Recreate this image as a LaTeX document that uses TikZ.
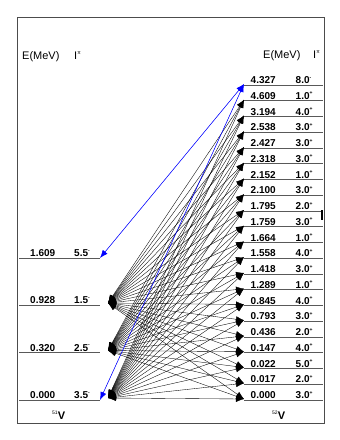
\documentclass[tikz,border=0pt]{standalone}
\usepackage{fontspec}
\setmainfont{Liberation Sans}
\usetikzlibrary{arrows.meta}
\newcommand{\tsup}[1]{\raisebox{0.45em}{\fontsize{5}{6}\selectfont #1}}
\tikzset{
  frame/.style={draw=black!70,line width=0.9pt},
  lvl/.style={draw=black!65,line width=0.9pt},
  elabel/.style={inner sep=0pt,anchor=base west,font=\bfseries\fontsize{10}{12}\selectfont},
  head/.style={inner sep=0pt,anchor=base west,font=\fontsize{11}{13}\selectfont},
  trans/.style={{Latex[length=8pt,width=6pt]}-{Latex[length=8pt,width=6pt]},line width=0.35pt},
  blueline/.style={trans,draw=blue,fill=blue,line width=0.5pt}
}
\begin{document}
\begin{tikzpicture}[x=1pt,y=-1pt]
  \useasboundingbox (0,0) rectangle (340,440);
  \draw[frame] (17,17) rectangle (324,423);
  % headers
  \node[head] (hEl) at (22,59) {E(MeV)};
  \node[head] (hIl) at (74,59) {I\tsup{π}};
  \node[head] (hEr) at (263,58) {E(MeV)};
  \node[head] (hIr) at (313,58) {I\tsup{π}};
  % 51V levels
  \foreach \e/\j/\p/\y [count=\i] in {1.609/5.5/-/258,0.928/1.5/-/305,0.320/2.5/-/352.5,0.000/3.5/-/400}{
    \coordinate (Ls\i) at (19,\y);
    \coordinate (L\i) at (100,\y);
    \coordinate (La\i) at (108,\y-2);
    \draw[lvl] (Ls\i) -- (L\i);
    \node[elabel] (le\i) at (30,\y-1.5) {\e};
    \node[elabel] (ls\i) at (74,\y-1.5) {\j\tsup{\p}};
  }
  % 52V levels
  \foreach \e/\j/\p [count=\i from 0] in {4.327/8.0/-,4.609/1.0/+,3.194/4.0/+,2.538/3.0/+,2.427/3.0/+,2.318/3.0/+,2.152/1.0/+,2.100/3.0/+,1.795/2.0/+,1.759/3.0/+,1.664/1.0/+,1.558/4.0/+,1.418/3.0/+,1.289/1.0/+,0.845/4.0/+,0.793/3.0/+,0.436/2.0/+,0.147/4.0/+,0.022/5.0/+,0.017/2.0/+,0.000/3.0/+}{
    \coordinate (R\i) at (244,85+15.75*\i-1);
    \coordinate (Rs\i) at (244,85+15.75*\i);
    \coordinate (Re\i) at (323,85+15.75*\i);
    \draw[lvl] (Rs\i) -- (Re\i);
    \node[elabel] (re\i) at (250.5,83.5+15.75*\i) {\e};
    \node[elabel] (rs\i) at (295.5,83.5+15.75*\i) {\j\tsup{\p}};
  }
  % transitions
  \foreach \a in {2,3,4}
    \foreach \b in {1,...,20}
      \draw[trans] (La\a) -- (R\b);
  \draw[blueline] (L1) -- (R0);
  \draw[blueline] (L4) -- (R0);
  \fill (320.5,210) rectangle (323,220);
  % nuclei
  \node[head,font=\bfseries\fontsize{11}{13}\selectfont] (n51) at (52,419) {\tsup{\mdseries 51}V};
  \node[head,font=\bfseries\fontsize{11}{13}\selectfont] (n52) at (272,419) {\tsup{\mdseries 52}V};
\end{tikzpicture}
\end{document}
